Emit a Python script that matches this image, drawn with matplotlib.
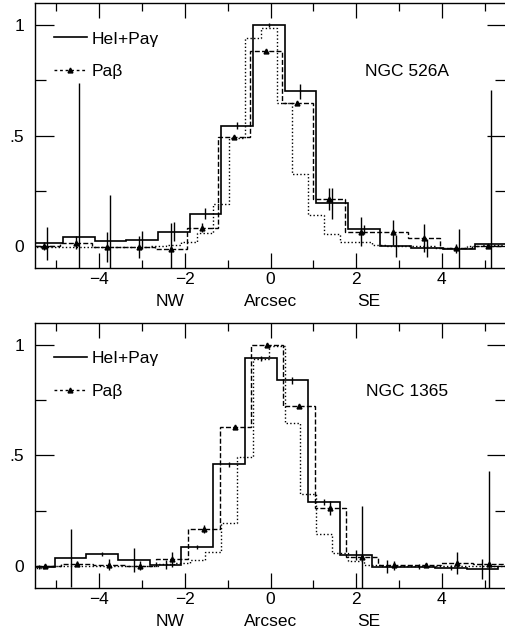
import numpy as np
import matplotlib
matplotlib.use("Agg")
import matplotlib.pyplot as plt
from matplotlib.lines import Line2D
import matplotlib.transforms as mtransforms

plt.rcParams['font.family'] = ['Liberation Sans', 'DejaVu Sans']
plt.rcParams['font.size'] = 12.5

# ---- NGC 526A (top) ----
top_heI_x = [-5.22, -4.48, -3.74, -3.00, -2.26, -1.52, -0.78, -0.04, 0.70, 1.44, 2.18, 2.92, 3.66, 4.40, 5.14]
top_heI_y = [0.012, 0.039, 0.022, 0.027, 0.065, 0.145, 0.545, 1.0, 0.70, 0.194, 0.076, 0.0, -0.01, -0.015, 0.008]
top_heI_err = [0.074, 0.70, 0.207, 0.04, 0.044, 0.025, 0.015, 0.01, 0.033, 0.07, 0.02, 0.05, 0.04, 0.09, 0.70]

top_pab_x = [-5.29, -4.55, -3.81, -3.07, -2.33, -1.59, -0.85, -0.11, 0.63, 1.37, 2.11, 2.85, 3.59, 4.33, 5.07]
top_pab_y = [0.0, 0.015, -0.003, -0.003, -0.014, 0.082, 0.494, 0.883, 0.648, 0.212, 0.065, 0.062, 0.035, -0.01, 0.0]
top_pab_err = [0.02, 0.03, 0.068, 0.05, 0.12, 0.02, 0.01, 0.01, 0.01, 0.05, 0.065, 0.057, 0.064, 0.02, 0.01]

top_cont_x = [-5.595, -5.225, -4.855, -4.485, -4.115, -3.745, -3.375, -3.005, -2.635, -2.265,
              -1.895, -1.525, -1.155, -0.785, -0.415, -0.045, 0.325, 0.695, 1.065, 1.435,
              1.805, 2.175, 2.545, 2.915, 3.285, 3.655, 4.025, 4.395, 4.765, 5.135, 5.505]
top_cont_y = [-0.003, -0.003, -0.003, -0.003, -0.005, -0.005, -0.005, -0.005, 0.0, 0.005,
              0.02, 0.058, 0.19, 0.49, 0.94, 0.985, 0.645, 0.326, 0.14, 0.053,
              0.02, 0.02, 0.005, 0.0, 0.0, 0.0, -0.01, -0.01, 0.0, 0.005, 0.005]

# ---- NGC 1365 (bottom) ----
bot_heI_x = [-5.41, -4.67, -3.93, -3.19, -2.45, -1.71, -0.97, -0.23, 0.51, 1.25, 1.99, 2.73, 3.47, 4.21, 4.95]
bot_heI_y = [-0.006, 0.035, 0.054, 0.027, 0.005, 0.085, 0.46, 0.94, 0.84, 0.29, 0.05, -0.003, -0.003, -0.008, -0.015]
bot_heI_err = [0.01, 0.13, 0.01, 0.055, 0.02, 0.01, 0.01, 0.01, 0.015, 0.015, 0.023, 0.03, 0.01, 0.01, 0.045]

bot_pab_x = [-5.26, -4.52, -3.78, -3.04, -2.30, -1.56, -0.82, -0.08, 0.66, 1.40, 2.14, 2.88, 3.62, 4.36, 5.10]
bot_pab_y = [0.0, 0.01, 0.005, 0.0, 0.03, 0.167, 0.63, 1.0, 0.724, 0.262, 0.04, 0.003, 0.005, 0.012, 0.008]
bot_pab_err = [0.01, 0.01, 0.025, 0.02, 0.035, 0.02, 0.01, 0.01, 0.01, 0.03, 0.23, 0.02, 0.01, 0.05, 0.42]

bot_cont_x = [-5.405, -5.035, -4.665, -4.295, -3.925, -3.555, -3.185, -2.815, -2.445, -2.075,
              -1.705, -1.335, -0.965, -0.595, -0.225, 0.145, 0.515, 0.885, 1.255, 1.625,
              1.995, 2.365, 2.735, 3.105, 3.475, 3.845, 4.215, 4.585, 4.955, 5.325]
bot_cont_y = [-0.008, 0.0, 0.0, 0.0, 0.0, 0.0, 0.0, 0.0, 0.01, 0.012,
              0.027, 0.065, 0.196, 0.495, 0.935, 0.995, 0.646, 0.324, 0.145, 0.057,
              0.02, 0.005, 0.0, 0.0, 0.0, 0.0, 0.0, 0.0, 0.0, 0.0]

names = ["NGC 526A", "NGC 1365"]
leg_labels = ["HeI+Pa\u03b3", "Pa\u03b2"]
xticks_major = [-4, -2, 0, 2, 4]
xticks_minor = [-5, -3, -1, 1, 3, 5]
yticks_major = [0, 0.5, 1]
yticks_minor = [0.25, 0.75]
ytick_labels = ["0", ".5", "1"]

DASH = (0, (3.6, 1.6))
DOT = (0, (1, 1.6))


def edges_of(c):
    c = np.asarray(c)
    w = np.diff(c).mean()
    return np.append(c - w / 2, c[-1] + w / 2)


def panel(ax, heI, pab, cont, name):
    hx, hy, he = heI
    px, py, pe = pab
    cx, cy = cont
    ax.stairs(cy, edges_of(cx), color='k', lw=1.0, linestyle=DOT)
    ax.stairs(py, edges_of(px), color='k', lw=1.0, linestyle=DASH)
    ax.stairs(hy, edges_of(hx), color='k', lw=1.2)
    ax.errorbar(hx, hy, yerr=he, fmt='none', ecolor='k', elinewidth=1.0)
    ax.errorbar(px, py, yerr=pe, fmt='^', color='k', ms=3.5, elinewidth=1.0)

    ax.set_xlim(-5.5, 5.5)
    ax.set_ylim(-0.1, 1.1)
    ax.set_xticks(xticks_major)
    ax.set_xticklabels(["\u22124", "\u22122", "0", "2", "4"])
    ax.set_xticks(xticks_minor, minor=True)
    ax.set_yticks(yticks_major)
    ax.set_yticklabels(ytick_labels)
    ax.set_yticks(yticks_minor, minor=True)
    ax.tick_params(axis='x', which='both', direction='in', top=True, width=0.9, pad=3)
    ax.tick_params(axis='x', which='major', length=10.8)
    ax.tick_params(axis='x', which='minor', length=5.8)
    ax.tick_params(axis='y', which='both', direction='in', right=True, width=0.9, pad=8)
    ax.tick_params(axis='y', which='major', length=13.7)
    ax.tick_params(axis='y', which='minor', length=8)
    for s in ax.spines.values():
        s.set_linewidth(1.0)

    h1 = Line2D([], [], color='k', lw=1.2)
    h2 = Line2D([], [], color='k', lw=1.0, linestyle=(0, (2, 2)), marker='^', ms=3.5)
    ax.legend([h1, h2], leg_labels, loc='upper left', bbox_to_anchor=(0.04, 0.893),
              frameon=False, handlelength=1.9, handletextpad=0.25, labelspacing=1.0,
              borderaxespad=0, borderpad=0, numpoints=1)

    ax.text(0.79, 0.74, name, transform=ax.transAxes, ha='center', va='center')
    tr = mtransforms.blended_transform_factory(ax.transData, ax.transAxes)
    ax.text(-2.35, -0.127, "NW", transform=tr, ha='center', va='center')
    ax.text(0.0, -0.127, "Arcsec", transform=tr, ha='center', va='center')
    ax.text(2.3, -0.127, "SE", transform=tr, ha='center', va='center')


fig = plt.figure(figsize=(5.06, 6.38), dpi=100)
ax1 = fig.add_axes([0.0692, 0.5799, 0.9308, 0.4154])
ax2 = fig.add_axes([0.0692, 0.0784, 0.9308, 0.4154])

panel(ax1, (top_heI_x, top_heI_y, top_heI_err), (top_pab_x, top_pab_y, top_pab_err),
      (top_cont_x, top_cont_y), names[0])
panel(ax2, (bot_heI_x, bot_heI_y, bot_heI_err), (bot_pab_x, bot_pab_y, bot_pab_err),
      (bot_cont_x, bot_cont_y), names[1])

fig.savefig("out.png", dpi=100)
